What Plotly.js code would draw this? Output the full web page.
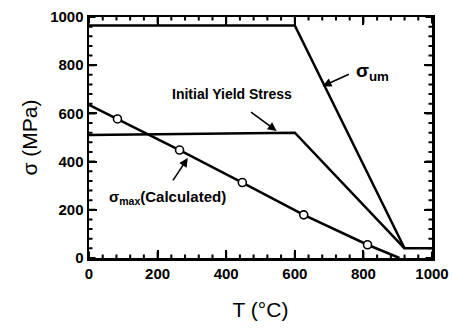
<!DOCTYPE html>
<html><head><meta charset="utf-8">
<script src="https://cdn.plot.ly/plotly-3.0.1.min.js"></script>
<style>body{margin:0;background:#fff}</style>
</head><body><div id="chart" style="width:453px;height:329px"></div>
<script>
// Data
const umT = [0, 600, 920, 1000];
const umS = [965, 965, 40, 40];
const yieldT = [0, 600, 920];
const yieldS = [510, 520, 40];
const maxLineT = [0, 83, 264, 447, 626, 812, 905];
const maxLineS = [635, 577, 448, 313, 179, 55, 0];
const maxPtT = [83, 264, 447, 626, 812];
const maxPtS = [577, 448, 313, 179, 55];
const xTicks = [0, 200, 400, 600, 800, 1000];
const yTicks = [0, 200, 400, 600, 800, 1000];
const minorStep = 40;

const black = '#000000';
const FAM = 'Liberation Sans, Arial, sans-serif';

const traces = [
  {x: umT, y: umS, mode: 'lines', line: {color: black, width: 2.5}, hoverinfo: 'skip'},
  {x: yieldT, y: yieldS, mode: 'lines', line: {color: black, width: 2.5}, hoverinfo: 'skip'},
  {x: maxLineT, y: maxLineS, mode: 'lines', line: {color: black, width: 2.5}, hoverinfo: 'skip'},
  {x: maxPtT, y: maxPtS, mode: 'markers', marker: {symbol: 'circle', size: 8, color: '#fff', line: {color: black, width: 1.6}}, hoverinfo: 'skip'}
];

function axis(ticks, titleText, standoff) {
  return {
    showgrid: false, zeroline: false, showline: true, linecolor: black, linewidth: 2.5,
    mirror: 'allticks', ticks: 'inside', ticklen: 8, tickwidth: 2, tickcolor: black,
    tickmode: 'array', tickvals: ticks, ticktext: ticks.map(String),
    tickfont: {family: FAM, size: 15, color: black, weight: 'bold'},
    range: [0, 1000], autorange: false, fixedrange: true,
    title: {text: titleText, font: {family: FAM, size: 21, color: black}, standoff: standoff}
  };
}

// Inside tick marks on all four sides, as arrow-less annotation stubs built from the tick arrays
const tickAnns = [];
const allTickVals = [];
for (let v = 0; v <= 1000; v += minorStep) allTickVals.push(v);
allTickVals.forEach(v => {
  const L = xTicks.includes(v) ? 8 : 5;
  const base = {text: '', showarrow: true, arrowhead: 0, arrowwidth: 2, arrowcolor: black, standoff: 0, startstandoff: 0, xref: 'x', yref: 'y'};
  tickAnns.push(Object.assign({x: v, y: 0, ax: 0, ay: -L}, base));
  tickAnns.push(Object.assign({x: v, y: 1000, ax: 0, ay: L}, base));
  tickAnns.push(Object.assign({x: 0, y: v, ax: L, ay: 0}, base));
  tickAnns.push(Object.assign({x: 1000, y: v, ax: -L, ay: 0}, base));
});

const arrow = {showarrow: true, arrowhead: 2, arrowsize: 1.1, arrowwidth: 1.6, arrowcolor: black, axref: 'x', ayref: 'y', text: ''};
const layout = {
  width: 453, height: 329,
  margin: {l: 89, r: 21, t: 17, b: 71},
  paper_bgcolor: '#fff', plot_bgcolor: '#fff',
  showlegend: false,
  xaxis: axis(xTicks, 'T (°C)', 22),
  yaxis: axis(yTicks, 'σ (MPa)', 7),
  annotations: [
    {x: 418, y: 680, text: 'Initial Yield Stress', showarrow: false, font: {family: FAM, size: 14, color: black, weight: 'bold'}},
    Object.assign({x: 547, y: 527, ax: 468, ay: 610}, arrow),
    {x: 773, y: 770, text: 'σ<sub>um</sub>', showarrow: false, xanchor: 'left', font: {family: FAM, size: 19, color: black, weight: 'bold'}},
    Object.assign({x: 681, y: 713, ax: 762, ay: 765}, arrow),
    {x: 230, y: 253, text: 'σ<sub>max</sub>(Calculated)', showarrow: false, font: {family: FAM, size: 15, color: black, weight: 'bold'}},
    Object.assign({x: 288, y: 415, ax: 242, ay: 316}, arrow)
  ].concat(tickAnns)
};
Plotly.newPlot('chart', traces, layout, {staticPlot: true, displayModeBar: false});
</script></body></html>
